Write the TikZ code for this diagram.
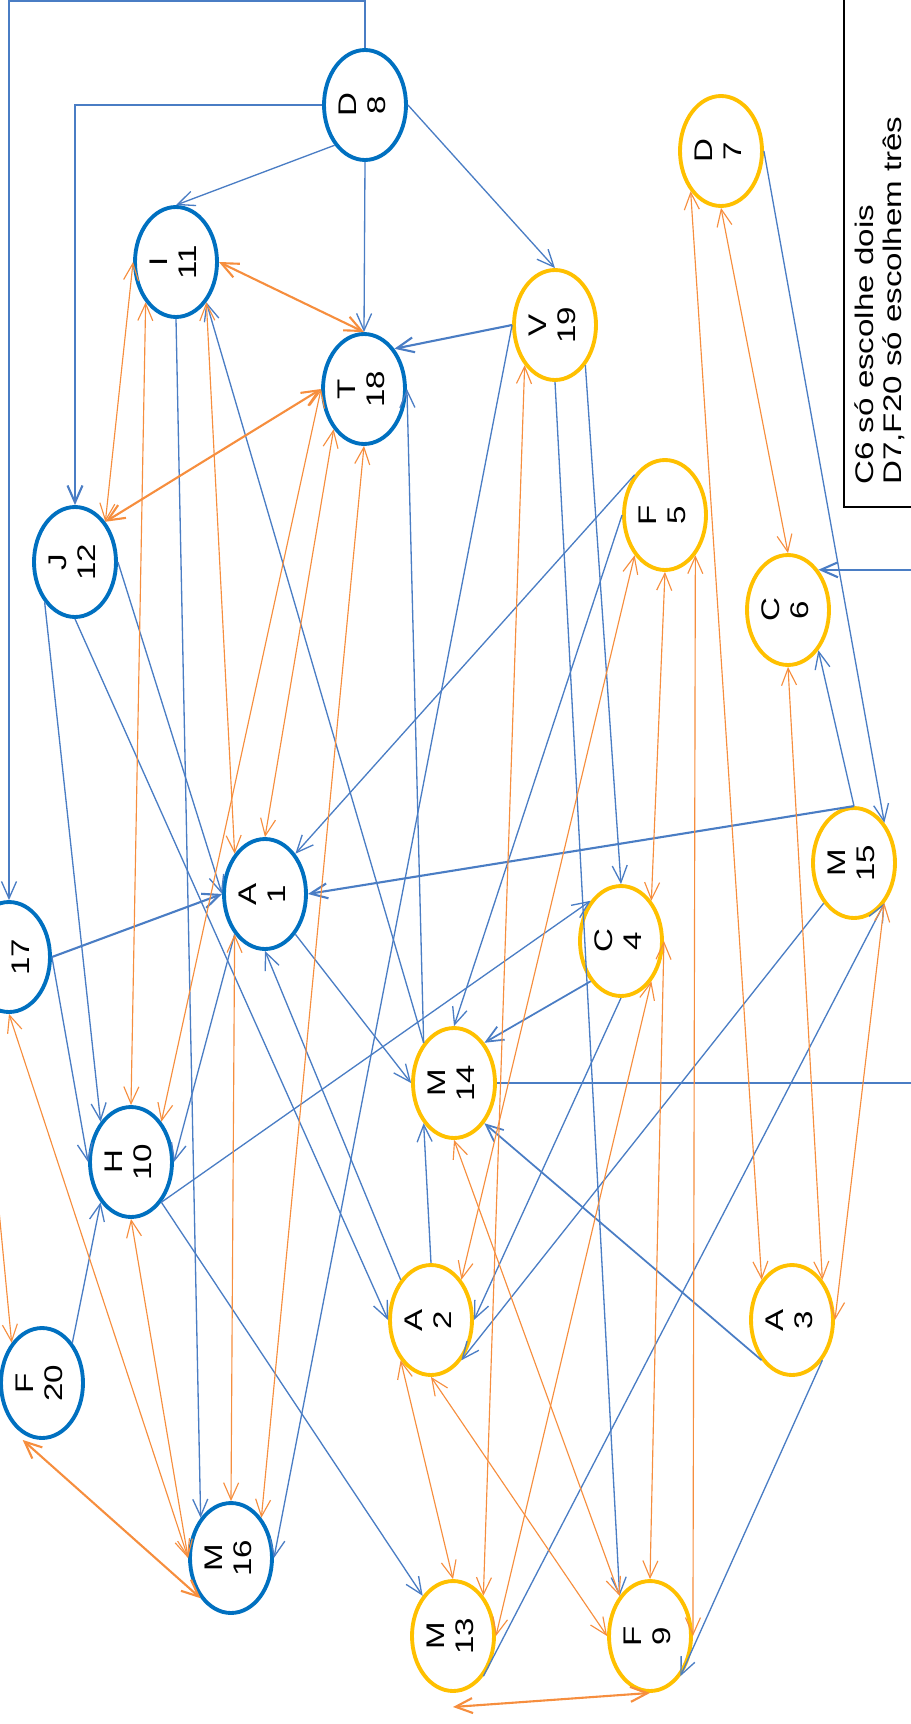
\documentclass[tikz,border=0pt]{standalone}
\usepackage{fontspec}
\setmainfont{Liberation Sans}[FakeStretch=1.3]
\usepackage{graphicx}
\usetikzlibrary{arrows.meta,shapes.geometric}
\definecolor{nodeblue}{HTML}{0070C0}
\definecolor{nodegold}{HTML}{FFC000}
\definecolor{linkblue}{HTML}{4A7DC4}
\definecolor{linkorange}{HTML}{F68E3E}
\newcommand{\lbl}[2]{\rotatebox{90}{\begin{tabular}{@{}c@{}}#1\\#2\end{tabular}}}
\tikzset{
  person/.style={ellipse, draw, fill=white, line width=2.2pt, minimum width=1.28cm,
    minimum height=2.2cm, inner sep=0pt, font=\fontsize{14.5}{16.5}\selectfont},
  bluenode/.style={person, draw=nodeblue},
  goldnode/.style={person, draw=nodegold},
  bluelink/.style={draw=linkblue, line width=0.75pt, ->},
  orangelink/.style={draw=linkorange, line width=0.65pt, <->},
}
\begin{document}
\begin{tikzpicture}[x=0.02cm, y=-0.02cm, >={Straight Barb[length=3.4mm,width=3mm]}]
  \useasboundingbox (0,0) rectangle (911,1724);
  \clip (0,0) rectangle (911,1724);

  \node[bluenode] (d8) at (365,105) {\lbl{D}{8}};
  \node[bluenode] (i11) at (176,262) {\lbl{I}{11}};
  \node[bluenode] (t18) at (364,389) {\lbl{T}{18}};
  \node[goldnode] (v19) at (555,325) {\lbl{V}{19}};
  \node[goldnode] (d7) at (721,151) {\lbl{D}{7}};
  \node[bluenode] (j12) at (75,562) {\lbl{J}{12}};
  \node[goldnode] (f5) at (665,515) {\lbl{F}{5}};
  \node[goldnode] (c6) at (788,610) {\lbl{C}{6}};
  \node[bluenode] (a1) at (265,894) {\lbl{A}{1}};
  \node[bluenode] (k17) at (9,957) {\lbl{K}{17}};
  \node[goldnode] (c4) at (621,941) {\lbl{C}{4}};
  \node[goldnode] (m15) at (854,863) {\lbl{M}{15}};
  \node[goldnode] (m14) at (454,1083) {\lbl{M}{14}};
  \node[bluenode] (h10) at (131,1162) {\lbl{H}{10}};
  \node[goldnode] (a2) at (431,1320) {\lbl{A}{2}};
  \node[goldnode] (a3) at (792,1320) {\lbl{A}{3}};
  \node[bluenode] (f20) at (42,1383) {\lbl{F}{20}};
  \node[bluenode] (m16) at (231,1558) {\lbl{M}{16}};
  \node[goldnode] (m13) at (453,1636) {\lbl{M}{13}};
  \node[goldnode] (f9) at (650,1636) {\lbl{F}{9}};

  \draw[line width=0.8pt] (844,-5) |- (930,507);
  \node[rotate=90, anchor=west, inner sep=0pt, align=left,
    font=\fontsize{14.5}{16}\selectfont] (note) at (880,485)
    {C6 só escolhe dois\\D7,F20 só escolhem três};

  \coordinate (topturn) at (9,1);
  \coordinate (rightturn) at (960,1083);

  \draw[bluelink] (d8.south west) -- (i11.north);
  \draw[bluelink] (d8.south) -- (t18.north);
  \draw[bluelink] (d8.east) -- (v19.north);
  \draw[bluelink, line width=1.2pt] (d8.west) -| (j12.north);
  \draw[bluelink] (d8.north) |- (topturn) -- (k17.north);
  \draw[bluelink, line width=1.2pt] (v19.west) -- (t18.north east);
  \draw[bluelink] (v19.west) -- (m16.east);
  \draw[bluelink] (v19.south) -- (f9.north west);
  \draw[bluelink] (v19.south east) -- (c4.north);
  \draw[bluelink] (i11.south) -- (m16.north west);
  \draw[bluelink] (m14.north west) -- (i11.south east);
  \draw[bluelink] (m14.north west) -- (t18.east);
  \draw[bluelink] (j12.south west) -- (h10.north west);
  \draw[bluelink] (j12.east) -- (a1.west);
  \draw[bluelink] (j12.south) -- (a2.west);
  \draw[bluelink, line width=1.2pt] (k17.east) -- (a1.west);
  \draw[bluelink] (k17.east) -- (h10.west);
  \draw[bluelink] (f20.north east) -- (h10.south west);
  \draw[bluelink] (a1.south west) -- (h10.east);
  \draw[bluelink] (h10.south east) -- (m13.north west);
  \draw[bluelink] (h10.south east) -- (c4.north west);
  \draw[bluelink] (a1.south east) -- (m14.west);
  \draw[bluelink, line width=1.2pt] (m15.north) -- (a1.east);
  \draw[bluelink] (m15.north) -- (c6.south east);
  \draw[bluelink] (d7.east) -- (m15.north east);
  \draw[bluelink] (f5.north west) -- (a1.north east);
  \draw[bluelink] (f5.west) -- (m14.north);
  \draw[bluelink, line width=1pt] (c4.south west) -- (m14.north east);
  \draw[bluelink] (c4.south) -- (a2.east);
  \draw[bluelink] (m15.south west) -- (a2.south east);
  \draw[bluelink] (m13.south east) -- (m15.south east);
  \draw[bluelink, line width=1pt] (a3.south west) -- (m14.south east);
  \draw[bluelink] (a3.south east) -- (f9.south east);
  \draw[bluelink] (a2.north) -- (m14.south west);
  \draw[bluelink] (a2.north west) -- (a1.south);
  \draw[bluelink, line width=1.2pt] (m14.east) -- (rightturn) |- (c6.north east);

  \draw[orangelink, line width=1.2pt] (i11.east) -- (t18.north);
  \draw[orangelink, line width=1.2pt] (t18.west) -- (j12.north east);
  \draw[orangelink] (i11.west) -- (j12.north east);
  \draw[orangelink] (i11.south west) -- (h10.north);
  \draw[orangelink] (i11.south east) -- (a1.north west);
  \draw[orangelink] (t18.west) -- (h10.north east);
  \draw[orangelink] (t18.south west) -- (a1.north);
  \draw[orangelink] (t18.south) -- (m16.north east);
  \draw[orangelink] (a1.south west) -- (m16.north);
  \draw[orangelink] (k17.south) -- (m16.west);
  \draw[orangelink] (h10.south) -- (m16.west);
  \draw[orangelink, <-] (f20.north west) -- (k17.south west);
  \draw[orangelink, line width=1.2pt] ([xshift=-11pt]f20.south) -- (m16.south west);
  \draw[orangelink] (v19.south west) -- (m13.north east);
  \draw[orangelink] (f5.south west) -- (a2.north east);
  \draw[orangelink] (f5.south) -- (c4.north east);
  \draw[orangelink] (f5.south east) -- (f9.east);
  \draw[orangelink] (c4.east) -- (f9.north);
  \draw[orangelink] (c4.south east) -- (m13.east);
  \draw[orangelink] (m14.south) -- (f9.north west);
  \draw[orangelink] (a2.south west) -- (m13.north);
  \draw[orangelink] (a2.south) -- (f9.west);
  \draw[orangelink, line width=1.2pt] ([yshift=-8pt]m13.south) -- (f9.south);
  \draw[orangelink] (d7.south west) -- (a3.north west);
  \draw[orangelink] (d7.south) -- (c6.north);
  \draw[orangelink] (c6.south) -- (a3.north east);
  \draw[orangelink] (m15.south east) -- (a3.east);
\end{tikzpicture}
\end{document}
